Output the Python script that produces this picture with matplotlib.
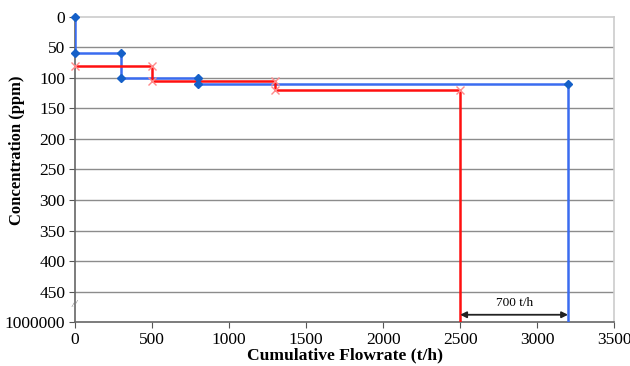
import numpy as np
import matplotlib
matplotlib.use("Agg")
import matplotlib.pyplot as plt

# limiting composite curve (blue) and supply curve (red), y = 500 stands for the 1000000 ppm break
blue_flow = [0, 0, 300, 300, 800, 800, 3200, 3200]
blue_conc = [0, 60, 60, 100, 100, 110, 110, 500]
red_flow = [0, 500, 500, 1300, 1300, 2500, 2500]
red_conc = [80, 80, 105, 105, 120, 120, 500]

y_ticks = [0, 50, 100, 150, 200, 250, 300, 350, 400, 450, 500]
y_labels = ["0", "50", "100", "150", "200", "250", "300", "350", "400", "450", "1000000"]
x_ticks = [0, 500, 1000, 1500, 2000, 2500, 3000, 3500]

plt.rcParams['font.family'] = ['Liberation Serif', 'DejaVu Serif']

fig = plt.figure(figsize=(6.3, 3.66), dpi=100)
ax = fig.add_axes([0.119, 0.120, 0.856, 0.834])

for y in y_ticks[1:-1]:
    ax.axhline(y, color='#8c8c8c', lw=1.0, zorder=1)

ax.plot(blue_flow, blue_conc, color='#3a6cf0', lw=1.8, zorder=3)
ax.plot(blue_flow[:-1], blue_conc[:-1], ls='none', marker='D', ms=4.5,
        color='#1560c8', zorder=4, clip_on=False)
ax.plot(red_flow, red_conc, color='#ff1010', lw=1.8, zorder=3)
ax.plot(red_flow[:-1], red_conc[:-1], ls='none', marker='x', ms=6, mew=1.0,
        color='#ff8a8a', zorder=4, clip_on=False)

# flowrate gap between the two curves
ax.annotate('', xy=(2500, 488), xytext=(3200, 488),
            arrowprops=dict(arrowstyle='<|-|>', color='#222222', lw=1.3,
                            mutation_scale=9, shrinkA=0, shrinkB=0))
ax.text(2850, 468, '700 t/h', ha='center', va='center', fontsize=9.5)

# axis break mark
ax.text(0, 472, '//', ha='center', va='center', fontsize=8, color='#888888',
        style='italic')

ax.set_xlim(0, 3500)
ax.set_ylim(500, 0)
ax.set_xticks(x_ticks)
ax.set_yticks(y_ticks)
ax.set_yticklabels(y_labels)
ax.tick_params(labelsize=12.5, length=4, color='#555555', direction='out', pad=3)

for side in ['left', 'bottom']:
    ax.spines[side].set_color('#666666')
    ax.spines[side].set_linewidth(1.2)
for side in ['top', 'right']:
    ax.spines[side].set_color('#cccccc')
    ax.spines[side].set_linewidth(1.2)

ax.set_xlabel('Cumulative Flowrate (t/h)', fontsize=12.6, fontweight='bold', labelpad=0)
ax.set_ylabel('Concentration (ppm)', fontsize=12, fontweight='bold')
ax.yaxis.set_label_coords(-0.093, 0.564)

fig.savefig('out.png', dpi=100)
